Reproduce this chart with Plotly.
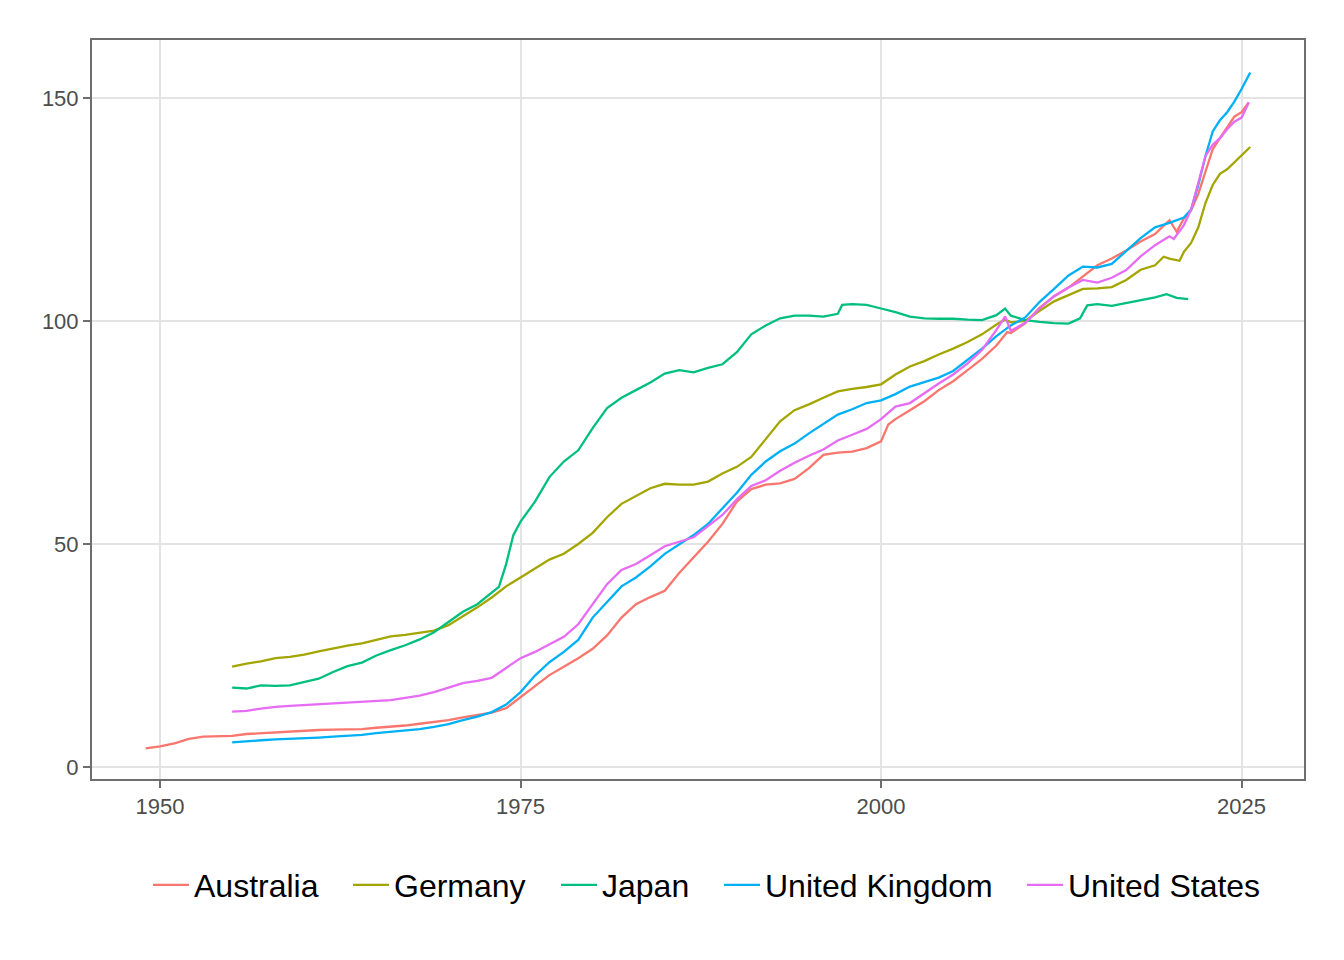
import plotly.graph_objects as go

# ---- data ----
aus_year = [1949, 1950, 1951, 1952, 1953, 1954, 1955, 1956, 1957, 1958, 1959, 1960, 1961, 1962, 1963, 1964,
            1965, 1966, 1967, 1968, 1969, 1970, 1971, 1972, 1973, 1974, 1975, 1976, 1977, 1978, 1979, 1980,
            1981, 1982, 1983, 1984, 1985, 1986, 1987, 1988, 1989, 1990, 1991, 1992, 1993, 1994, 1995, 1996,
            1997, 1998, 1999, 2000, 2000.5, 2001, 2002, 2003, 2004, 2005, 2006, 2007, 2008, 2008.75, 2009,
            2010, 2011, 2012, 2013, 2014, 2015, 2016, 2017, 2018, 2019, 2020, 2020.5, 2021, 2021.5, 2022,
            2022.5, 2023, 2023.5, 2024, 2024.5, 2025, 2025.5]
aus_val = [4.2, 4.6, 5.3, 6.3, 6.8, 6.9, 7.0, 7.4, 7.6, 7.8, 7.9, 8.1, 8.3, 8.4, 8.4, 8.5,
           8.8, 9.0, 9.3, 9.7, 10.1, 10.5, 11.1, 11.6, 12.2, 13.2, 15.6, 18.0, 20.6, 22.5, 24.4, 26.5,
           29.5, 33.5, 36.5, 38.1, 39.5, 43.5, 47.0, 50.5, 54.5, 59.5, 62.3, 63.3, 63.6, 64.6, 67.0, 70.0,
           70.5, 70.7, 71.5, 73.0, 76.8, 78.0, 80.0, 82.0, 84.5, 86.5, 89.0, 91.5, 94.5, 97.5, 97.3,
           99.5, 103.0, 105.5, 107.5, 110.0, 112.5, 114.0, 115.8, 117.8, 119.5, 122.6, 120.0, 123.0, 124.8, 128.5,
           133.5, 138.5, 141.0, 143.5, 145.8, 146.8, 149.0]

ger_year = [1955, 1956, 1957, 1958, 1959, 1960, 1961, 1962, 1963, 1964, 1965, 1966, 1967, 1968, 1969, 1970,
            1971, 1972, 1973, 1974, 1975, 1976, 1977, 1978, 1979, 1980, 1981, 1982, 1983, 1984, 1985, 1986,
            1987, 1988, 1989, 1990, 1991, 1992, 1993, 1994, 1995, 1996, 1997, 1998, 1999, 2000, 2001, 2002,
            2003, 2004, 2005, 2006, 2007, 2008, 2008.6, 2009, 2010, 2011, 2012, 2013, 2014, 2015, 2016, 2017,
            2018, 2019, 2019.6, 2020, 2020.7, 2021, 2021.5, 2022, 2022.5, 2023, 2023.5, 2024, 2024.5, 2025, 2025.6]
ger_val = [22.5, 23.2, 23.7, 24.4, 24.7, 25.2, 25.9, 26.6, 27.2, 27.7, 28.5, 29.3, 29.6, 30.1, 30.6, 31.8,
           33.8, 35.8, 38.0, 40.5, 42.5, 44.5, 46.5, 47.8, 50.0, 52.5, 56.0, 59.0, 60.8, 62.5, 63.5, 63.3,
           63.3, 64.0, 65.8, 67.3, 69.5, 73.5, 77.5, 80.0, 81.3, 82.8, 84.2, 84.8, 85.2, 85.8, 88.0, 89.8,
           91.0, 92.5, 93.8, 95.3, 97.0, 99.2, 100.3, 99.7, 100.0, 102.3, 104.4, 105.8, 107.2, 107.3, 107.6, 109.2,
           111.5, 112.5, 114.4, 114.0, 113.5, 115.5, 117.5, 121.0, 126.5, 130.5, 133.0, 134.0, 135.5, 137.0, 139.0]

jpn_year = [1955, 1956, 1957, 1958, 1959, 1960, 1961, 1962, 1963, 1964, 1965, 1966, 1967, 1968, 1969, 1970,
            1971, 1972, 1973, 1973.5, 1974, 1974.5, 1975, 1976, 1977, 1978, 1979, 1980, 1981, 1982, 1983, 1984,
            1985, 1986, 1987, 1988, 1989, 1990, 1991, 1992, 1993, 1994, 1995, 1996, 1997, 1997.3, 1998, 1999,
            2000, 2001, 2002, 2003, 2004, 2005, 2006, 2007, 2008, 2008.6, 2009, 2010, 2011, 2012, 2013, 2013.8,
            2014.3, 2015, 2016, 2017, 2018, 2019, 2019.8, 2020.5, 2021.3]
jpn_val = [17.8, 17.6, 18.3, 18.2, 18.3, 19.0, 19.8, 21.3, 22.6, 23.4, 25.0, 26.2, 27.3, 28.6, 30.2, 32.5,
           34.8, 36.5, 39.0, 40.4, 45.5, 52.0, 55.0, 59.5, 65.0, 68.5, 71.0, 76.0, 80.5, 82.8, 84.5, 86.2,
           88.2, 89.0, 88.5, 89.5, 90.3, 93.0, 97.0, 99.0, 100.6, 101.2, 101.2, 101.0, 101.6, 103.6, 103.8, 103.6,
           102.8, 102.0, 101.0, 100.6, 100.5, 100.5, 100.3, 100.2, 101.3, 102.8, 101.2, 100.2, 99.8, 99.5, 99.4, 100.6,
           103.5, 103.8, 103.4, 104.0, 104.7, 105.3, 106.0, 105.2, 104.9]

gbr_year = [1955, 1956, 1957, 1958, 1959, 1960, 1961, 1962, 1963, 1964, 1965, 1966, 1967, 1968, 1969, 1970,
            1971, 1972, 1973, 1974, 1975, 1976, 1977, 1978, 1979, 1980, 1981, 1982, 1983, 1984, 1985, 1986,
            1987, 1988, 1989, 1990, 1991, 1992, 1993, 1994, 1995, 1996, 1997, 1998, 1999, 2000, 2001, 2002,
            2003, 2004, 2005, 2006, 2007, 2008, 2009, 2010, 2011, 2012, 2013, 2014, 2015, 2016, 2017, 2018,
            2019, 2020, 2021, 2021.5, 2022, 2022.5, 2023, 2023.5, 2024, 2024.5, 2025, 2025.6]
gbr_val = [5.5, 5.8, 6.0, 6.2, 6.3, 6.4, 6.6, 6.8, 7.0, 7.2, 7.6, 7.9, 8.1, 8.5, 9.0, 9.6,
           10.5, 11.3, 12.3, 14.0, 16.8, 20.5, 23.5, 25.8, 28.5, 33.5, 37.0, 40.5, 42.5, 45.0, 47.8, 50.0,
           52.0, 54.5, 58.0, 61.5, 65.5, 68.5, 70.8, 72.5, 74.8, 77.0, 79.0, 80.2, 81.6, 82.2, 83.6, 85.3,
           86.3, 87.3, 88.8, 91.2, 93.8, 96.6, 99.0, 100.8, 104.3, 107.2, 110.2, 112.2, 112.0, 112.8, 115.8, 118.6,
           121.0, 122.0, 123.2, 125.0, 130.5, 137.0, 142.5, 145.0, 146.8, 149.2, 152.0, 155.7]

usa_year = [1955, 1956, 1957, 1958, 1959, 1960, 1961, 1962, 1963, 1964, 1965, 1966, 1967, 1968, 1969, 1970,
            1971, 1972, 1973, 1974, 1975, 1976, 1977, 1978, 1979, 1980, 1981, 1982, 1983, 1984, 1985, 1986,
            1987, 1988, 1989, 1990, 1991, 1992, 1993, 1994, 1995, 1996, 1997, 1998, 1999, 2000, 2001, 2002,
            2003, 2004, 2005, 2006, 2007, 2008, 2008.6, 2009, 2010, 2011, 2012, 2013, 2014, 2015, 2016, 2017,
            2018, 2019, 2020, 2020.3, 2021, 2021.5, 2022, 2022.5, 2023, 2023.5, 2024, 2024.5, 2025, 2025.5]
usa_val = [12.4, 12.6, 13.1, 13.5, 13.7, 13.9, 14.1, 14.2, 14.4, 14.6, 14.8, 15.0, 15.5, 16.0, 16.8, 17.8,
           18.8, 19.3, 20.0, 22.2, 24.4, 25.8, 27.5, 29.2, 32.0, 36.5, 41.0, 44.2, 45.5, 47.5, 49.5, 50.5,
           51.5, 54.0, 56.5, 60.0, 63.0, 64.3, 66.4, 68.2, 69.8, 71.2, 73.2, 74.5, 75.8, 78.0, 80.8, 81.6,
           83.8, 86.0, 88.0, 90.5, 93.5, 98.0, 101.0, 97.8, 99.6, 102.8, 105.6, 107.5, 109.2, 108.6, 109.7, 111.4,
           114.5, 117.0, 119.0, 118.4, 121.5, 125.0, 131.0, 137.0, 139.5, 141.0, 143.0, 144.7, 145.6, 149.0]

countries = ["Australia", "Germany", "Japan", "United Kingdom", "United States"]
years = [aus_year, ger_year, jpn_year, gbr_year, usa_year]
values = [aus_val, ger_val, jpn_val, gbr_val, usa_val]
colors = ["#F8766D", "#A3A500", "#00BF7D", "#00B0F6", "#E76BF3"]

x_ticks = [1950, 1975, 2000, 2025]
y_ticks = [0, 50, 100, 150]

# page geometry of the panel (the page body adds an 8px offset)
PANEL_L, PANEL_R, PANEL_T, PANEL_B = 92, 1304, 40, 779
OFF = 8
# left edge (px) of each legend entry's key
legend_left_px = [148, 348, 556, 719, 1022]
legend_mid_px = 885

fig = go.Figure()
for i, (name, xs, ys, col) in enumerate(zip(countries, years, values, colors)):
    lg = "legend" if i == 0 else f"legend{i + 1}"
    fig.add_trace(go.Scatter(x=xs, y=ys, mode="lines", name=name, legend=lg,
                             line=dict(color=col, width=2.3)))

axis_common = dict(
    showgrid=True, gridcolor="#E3E3E3", gridwidth=1.6,
    zeroline=False, showline=True, linecolor="#6E6E6E", linewidth=2, mirror=True,
    ticks="outside", ticklen=7, tickwidth=1.6, tickcolor="#6E6E6E",
    tickfont=dict(family="Liberation Sans, Arial", size=22, color="#4D4D4D"),
)

panel_w = PANEL_R - PANEL_L
panel_h = PANEL_B - PANEL_T
legend_layout = {}
for i, px in enumerate(legend_left_px):
    key = "legend" if i == 0 else f"legend{i + 1}"
    legend_layout[key] = dict(
        orientation="h", x=(px - PANEL_L) / panel_w, xanchor="left",
        y=(PANEL_B - legend_mid_px) / panel_h, yanchor="middle",
        font=dict(family="Liberation Sans, Arial", size=32, color="black"),
        itemwidth=36, bgcolor="rgba(0,0,0,0)", borderwidth=0,
    )

fig.update_layout(
    width=1344, height=960,
    paper_bgcolor="white", plot_bgcolor="white",
    margin=dict(l=PANEL_L - OFF, r=1344 - PANEL_R + OFF, t=PANEL_T - OFF, b=960 - PANEL_B + OFF),
    xaxis=dict(range=[1945.28, 2029.33], tickvals=x_ticks, **axis_common),
    yaxis=dict(range=[-2.69, 163.0], tickvals=y_ticks, **axis_common),
    showlegend=True,
    **legend_layout,
)

fig.write_html("out.html")
